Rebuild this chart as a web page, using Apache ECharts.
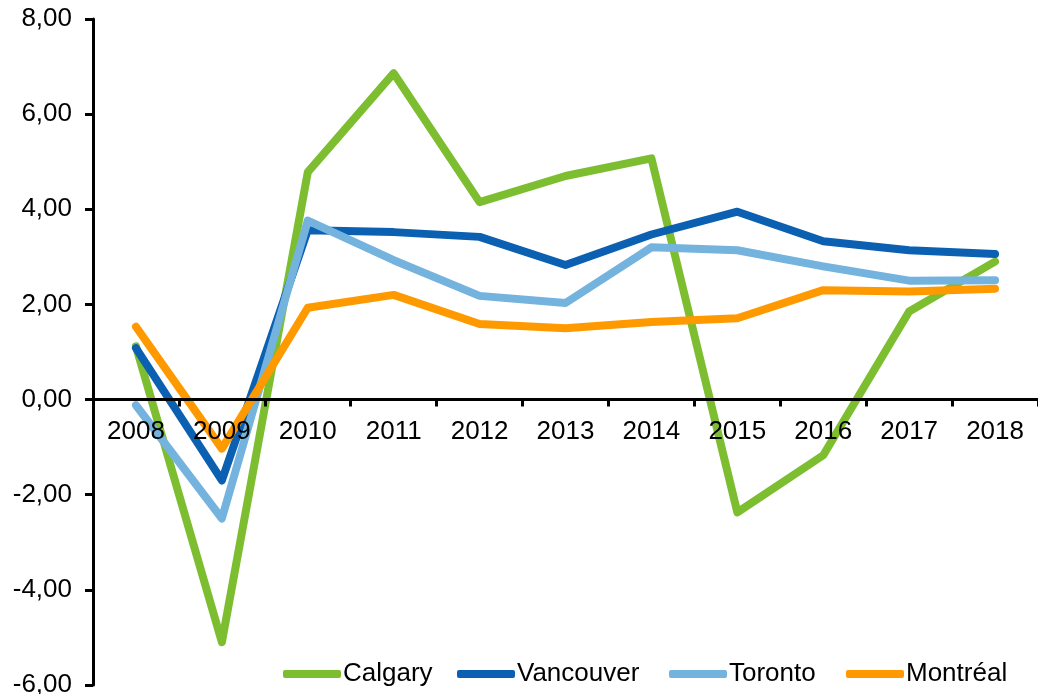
<!DOCTYPE html>
<html>
<head>
<meta charset="utf-8">
<script src="https://cdn.jsdelivr.net/npm/echarts@6/dist/echarts.min.js"></script>
<style>
  html, body { margin: 0; padding: 0; background: #fff; }
  #chart { width: 1038px; height: 694px; }
</style>
</head>
<body>
<div id="chart"></div>
<script>
// 年份与各城市数值
const years = ['2008', '2009', '2010', '2011', '2012', '2013', '2014', '2015', '2016', '2017', '2018'];
const calgary = [1.12, -5.1, 4.78, 6.86, 4.15, 4.7, 5.07, -2.37, -1.17, 1.85, 2.9];
const vancouver = [1.08, -1.7, 3.56, 3.52, 3.42, 2.83, 3.47, 3.95, 3.33, 3.14, 3.06];
const toronto = [-0.12, -2.5, 3.76, 2.93, 2.18, 2.03, 3.2, 3.14, 2.8, 2.5, 2.51];
const montreal = [1.53, -1.03, 1.93, 2.2, 1.59, 1.5, 1.63, 1.71, 2.3, 2.27, 2.33];
const cities = ['Calgary', 'Vancouver', 'Toronto', 'Montréal'];

const FONT = '"Liberation Sans", Arial, sans-serif';
const Y_MIN = -6, Y_MAX = 8;
const GRID_TOP = 19, GRID_BOTTOM = 9, H = 694;

function lineSeries(name, data, color) {
  return {
    name: name,
    type: 'line',
    data: data,
    symbol: 'none',
    color: color,
    z: 2,
    lineStyle: { color: color, width: 8, cap: 'round', join: 'round' },
    emphasis: { disabled: true }
  };
}

// 图例每项单独定位，贴近原图
function legendItem(name, left) {
  return {
    left: left,
    top: 656,
    icon: 'roundRect',
    itemWidth: 58,
    itemHeight: 8,
    textStyle: { fontFamily: FONT, fontSize: 26, color: '#000', padding: [0, 0, 0, -3] },
    data: [name]
  };
}

// x 轴放在 0 的位置：用 offset 从底部上移
const plotH = H - GRID_TOP - GRID_BOTTOM;
const zeroOffset = -plotH * (0 - Y_MIN) / (Y_MAX - Y_MIN);

const chart = echarts.init(document.getElementById('chart'));

chart.setOption({
  animation: false,
  grid: { left: 93, right: 0, top: GRID_TOP, bottom: GRID_BOTTOM, containLabel: false, outerBoundsMode: 'none' },
  legend: [
    legendItem(cities[0], 278),
    legendItem(cities[1], 452),
    legendItem(cities[2], 664),
    legendItem(cities[3], 841)
  ],
  xAxis: {
    type: 'category',
    data: years,
    boundaryGap: true,
    position: 'bottom',
    offset: zeroOffset,
    z: 10,
    axisLine: { onZero: false, lineStyle: { color: '#000', width: 3 } },
    axisTick: { show: true, length: 7, interval: 0, lineStyle: { color: '#000', width: 3 } },
    axisLabel: {
      show: true, interval: 0,
      fontFamily: FONT, fontSize: 26, color: '#000', margin: 19
    },
    splitLine: { show: false }
  },
  yAxis: {
    type: 'value',
    min: Y_MIN,
    max: Y_MAX,
    interval: 2,
    z: 10,
    axisLine: { show: true, lineStyle: { color: '#000', width: 3 } },
    axisTick: { show: true, length: 8, lineStyle: { color: '#000', width: 3 } },
    axisLabel: {
      fontFamily: FONT, fontSize: 26, color: '#000', margin: 21,
      formatter: v => v.toFixed(2).replace('.', ',')
    },
    splitLine: { show: false }
  },
  series: [
    lineSeries(cities[0], calgary, '#7DBE31'),
    lineSeries(cities[1], vancouver, '#0B60B2'),
    lineSeries(cities[2], toronto, '#74B3DE'),
    lineSeries(cities[3], montreal, '#FF9900')
  ]
});
</script>
</body>
</html>
